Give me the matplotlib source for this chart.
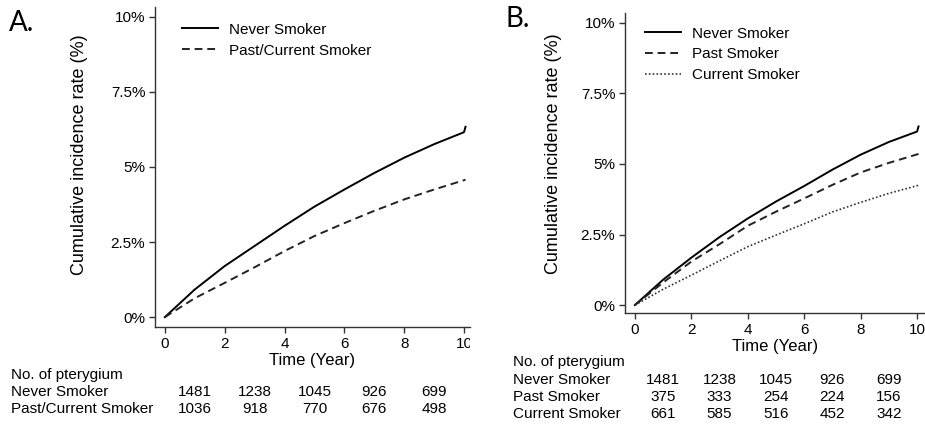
import numpy as np
import matplotlib
matplotlib.use("Agg")
from matplotlib import pyplot as plt
from matplotlib.transforms import Bbox, TransformedBbox, blended_transform_factory

plt.rcParams['font.family'] = ['Liberation Sans', 'DejaVu Sans']

# time points (years)
years = [0, 1, 2, 3, 4, 5, 6, 7, 8, 9, 10, 10.05]

# panel A: cumulative incidence (%)
a_never = [0, 0.92, 1.70, 2.37, 3.04, 3.68, 4.25, 4.80, 5.31, 5.76, 6.16, 6.34]
a_smoker = [0, 0.63, 1.14, 1.66, 2.20, 2.70, 3.13, 3.54, 3.92, 4.25, 4.56, 4.58]

# panel B
b_never = [0, 0.90, 1.68, 2.41, 3.07, 3.67, 4.22, 4.80, 5.33, 5.78, 6.15, 6.33]
b_past = [0, 0.80, 1.54, 2.16, 2.81, 3.31, 3.78, 4.26, 4.70, 5.04, 5.34, 5.36]
b_current = [0, 0.56, 1.06, 1.57, 2.07, 2.48, 2.88, 3.30, 3.64, 3.96, 4.23, 4.25]

# numbers at risk (shown at mid-intervals)
risk_x = [1, 3, 5, 7, 9]
risk_a = {'Never Smoker': [1481, 1238, 1045, 926, 699],
          'Past/Current Smoker': [1036, 918, 770, 676, 498]}
risk_b = {'Never Smoker': [1481, 1238, 1045, 926, 699],
          'Past Smoker': [375, 333, 254, 224, 156],
          'Current Smoker': [661, 585, 516, 452, 342]}

yticks = [0, 2.5, 5, 7.5, 10]
ylabels = ['0%', '2.5%', '5%', '7.5%', '10%']
xticks = [0, 2, 4, 6, 8, 10]

W, H = 925, 425
fig = plt.figure(figsize=(W / 100, H / 100), dpi=100)


def px_axes(left, right, top, bottom):
    return fig.add_axes([left / W, (H - bottom) / H, (right - left) / W, (bottom - top) / H])


def style(ax, xlim, ylim):
    ax.set_xlim(*xlim)
    ax.set_ylim(*ylim)
    ax.set_xticks(xticks)
    ax.set_yticks(yticks)
    ax.set_yticklabels(ylabels)
    for s in ['top', 'right']:
        ax.spines[s].set_visible(False)
    for s in ['left', 'bottom']:
        ax.spines[s].set_color('#333333')
        ax.spines[s].set_linewidth(1.0)
    ax.tick_params(direction='out', length=4, width=1, color='#333333', labelsize=11, pad=3)
    ax.set_xlabel('Time (Year)', fontsize=12, labelpad=2)
    ax.set_ylabel('Cumulative incidence rate (%)', fontsize=13)


lw = 1.4

# ---- panel A
axA = px_axes(155, 470, 7, 327)
axA.plot(years, a_never, color='black', lw=lw, ls='-', label='Never Smoker')
axA.plot(years, a_smoker, color='#222222', lw=lw, ls=(0, (4, 2.5)), label='Past/Current Smoker')
style(axA, (-0.33, 10.2), (-0.33, 10.33))
axA.yaxis.set_label_coords(-0.213, 0.54)
axA.legend(loc='upper left', bbox_to_anchor=(0.065, 0.97), frameon=False, fontsize=11,
           handlelength=2.4, handletextpad=0.7, labelspacing=0.45, borderaxespad=0)

# ---- panel B
axB = px_axes(625, 925, 13, 313)
axB.plot(years, b_never, color='black', lw=lw, ls='-', label='Never Smoker')
axB.plot(years, b_past, color='#222222', lw=lw, ls=(0, (4, 2.5)), label='Past Smoker')
axB.plot(years, b_current, color='#333333', lw=1.2, ls=(0, (1, 1.3)), label='Current Smoker')
style(axB, (-0.35, 10.28), (-0.28, 10.35))
axB.yaxis.set_label_coords(-0.21, 0.53)
axB.legend(loc='upper left', bbox_to_anchor=(0.045, 0.975), frameon=False, fontsize=11,
           handlelength=2.4, handletextpad=0.7, labelspacing=0.45, borderaxespad=0)

# crop the "10" of panel A at the panel edge, like the original composite
clipA = TransformedBbox(Bbox([[0, 0], [470 / W, 1]]), fig.transFigure)
for lbl in axA.get_xticklabels():
    lbl.set_clip_box(clipA)
    lbl.set_clip_on(True)


# ---- numbers at risk tables
def risk_table(ax, rows, x_left, y_head, dy):
    fig.text(x_left / W, 1 - y_head / H, 'No. of pterygium', fontsize=11, va='center', ha='left')
    tr = blended_transform_factory(ax.transData, fig.transFigure)
    for i, (name, vals) in enumerate(rows.items()):
        y = 1 - (y_head + dy * (i + 1)) / H
        fig.text(x_left / W, y, name, fontsize=11, va='center', ha='left')
        for x, v in zip(risk_x, vals):
            ax.text(x, y, str(v), transform=tr, fontsize=11, va='center', ha='center', clip_on=False)


risk_table(axA, risk_a, 11, 375, 17)
risk_table(axB, risk_b, 513, 362, 17.5)

fig.text(9 / W, 1 - 23 / H, 'A.', fontsize=20, family=['Lato', 'DejaVu Sans'], va='center', ha='left')
fig.text(506 / W, 1 - 19 / H, 'B.', fontsize=20, family=['Lato', 'DejaVu Sans'], va='center', ha='left')

fig.savefig('out.png', dpi=100, facecolor='white')
